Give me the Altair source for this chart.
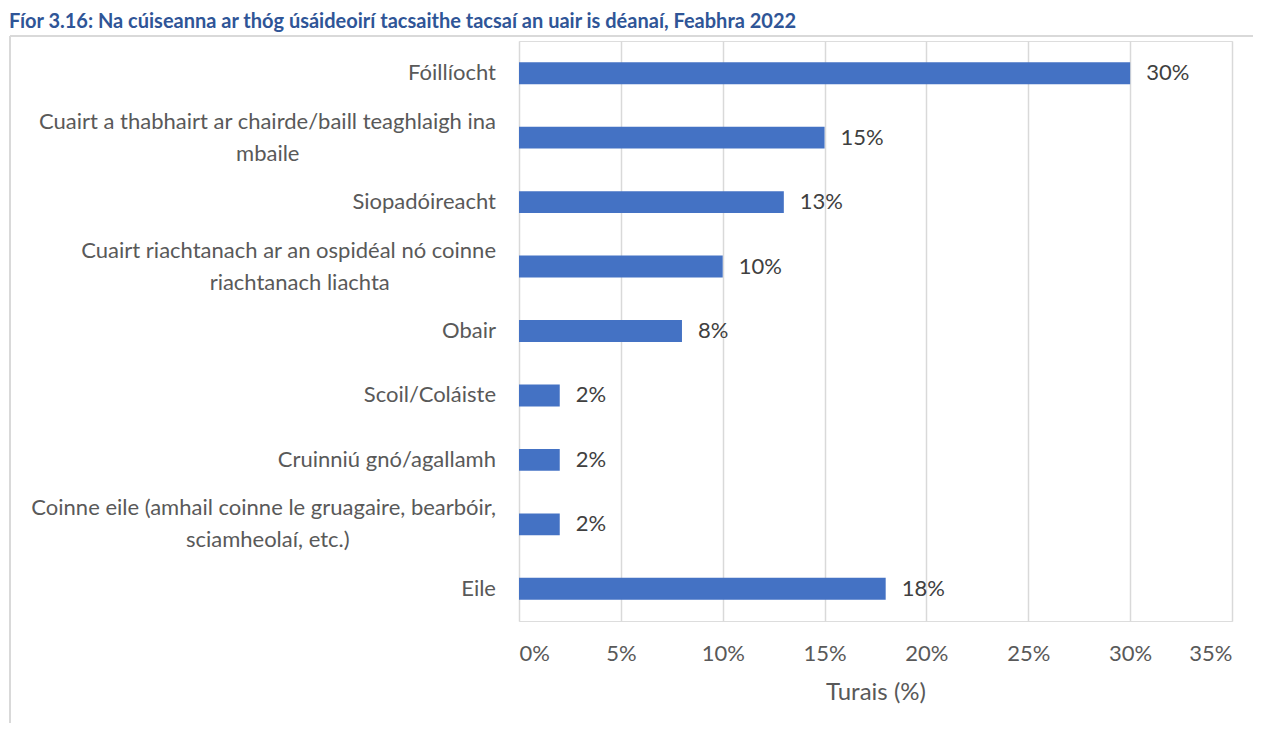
import altair as alt
import pandas as pd

title_text = "Fíor 3.16: Na cúiseanna ar thóg úsáideoirí tacsaithe tacsaí an uair is déanaí, Feabhra 2022"

categories = [
    "Fóillíocht",
    "Cuairt a thabhairt ar chairde/baill teaghlaigh ina\nmbaile",
    "Siopadóireacht",
    "Cuairt riachtanach ar an ospidéal nó coinne\nriachtanach liachta",
    "Obair",
    "Scoil/Coláiste",
    "Cruinniú gnó/agallamh",
    "Coinne eile (amhail coinne le gruagaire, bearbóir,\nsciamheolaí, etc.)",
    "Eile",
]
values = [0.30, 0.15, 0.13, 0.10, 0.08, 0.02, 0.02, 0.02, 0.18]
x_ticks = [0, 0.05, 0.10, 0.15, 0.20, 0.25, 0.30, 0.35]

df = pd.DataFrame({"cat": categories, "val": values})

FONT = "Lato"
FS = 22
AX = "#595959"
GRID = "#d9d9d9"
CHAR_W = 0.415 * FS  # rough average glyph width, used to centre second label lines

y_enc = alt.Y(
    "cat:N",
    sort=categories,
    title=None,
    scale=alt.Scale(paddingInner=0.66, paddingOuter=0.33),
    axis=alt.Axis(domain=False, ticks=False, labels=False),
)
x_enc = alt.X(
    "val:Q",
    title="Turais (%)",
    scale=alt.Scale(domain=[0, 0.35], nice=False),
    axis=alt.Axis(
        values=x_ticks,
        format=".0%",
        domain=False,
        ticks=False,
        grid=True,
        gridColor=GRID,
        gridWidth=1.5,
        labelPadding=22,
        labelFont=FONT,
        labelFontSize=FS,
        labelColor=AX,
        titleFont=FONT,
        titleFontSize=24,
        titleFontWeight="normal",
        titleColor=AX,
        titlePadding=16,
    ),
)
y_only = alt.Y("cat:N", sort=categories)

base = alt.Chart(df)
bars = base.mark_bar(color="#4472C4").encode(x=x_enc, y=y_enc)
values_txt = base.mark_text(
    align="left", baseline="middle", dx=16, font=FONT, fontSize=FS, color="#404040"
).encode(x="val:Q", y=y_only, text=alt.Text("val:Q", format=".0%"))

lab = base.transform_calculate(
    multi="indexof(datum.cat, '\\n') >= 0",
    l1="split(datum.cat, '\\n')[0]",
    l2="indexof(datum.cat, '\\n') >= 0 ? split(datum.cat, '\\n')[1] : ''",
    cx=f"-23 - length(split(datum.cat, '\\n')[0]) * {CHAR_W / 2}",
)
lab_single = lab.transform_filter("!datum.multi").mark_text(
    align="right", baseline="middle", font=FONT, fontSize=FS, color=AX
).encode(x=alt.value(-23), y=y_only, text="l1:N")
lab_first = lab.transform_filter("datum.multi").mark_text(
    align="right", baseline="middle", dy=-16, font=FONT, fontSize=FS, color=AX
).encode(x=alt.value(-23), y=y_only, text="l1:N")
lab_second = lab.transform_filter("datum.multi").mark_text(
    align="center", baseline="middle", dy=16, font=FONT, fontSize=FS, color=AX
).encode(x=alt.X("cx:Q", scale=None), y=y_only, text="l2:N")

one = pd.DataFrame({"t": [title_text]})
frame_left = alt.Chart(one).mark_rule(color=GRID, strokeWidth=2).encode(
    x=alt.value(-509), y=alt.value(-5), y2=alt.value(700)
)
frame_top = alt.Chart(one).mark_rule(color=GRID, strokeWidth=2).encode(
    x=alt.value(-509), x2=alt.value(760), y=alt.value(-5)
)
title_mark = alt.Chart(one).mark_text(
    align="left", baseline="alphabetic", font=FONT, fontSize=20, fontWeight="bold", color="#2F5597"
).encode(x=alt.value(-510), y=alt.value(-13), text="t:N")

chart = (
    alt.layer(frame_left, frame_top, title_mark, bars, values_txt, lab_single, lab_first, lab_second)
    .properties(
        width=713,
        height=580,
        autosize=alt.AutoSizeParams(type="none"),
        padding={"left": 511, "top": 33, "right": 21, "bottom": 102},
    )
    .configure_view(stroke=None)
    .configure(background="white")
)

chart.save("out.html", embed_options={"renderer": "svg", "actions": False})
